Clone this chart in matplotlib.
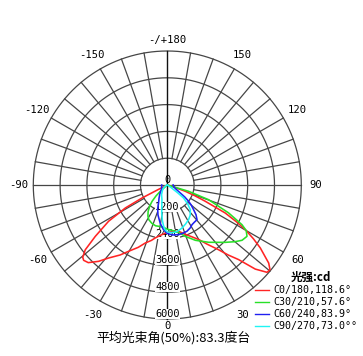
import numpy as np
import matplotlib
matplotlib.use("Agg")
import matplotlib.pyplot as plt
from matplotlib.lines import Line2D

# ---------------- data (gamma angle in degrees, intensity in cd) ----------------
c0_gamma = [-90, -65, -63.5, -62.8, -61.3, -58.3, -54.5, -51.7, -49.5, -48, -45.5, -42,
            -38.8, -34, -30.3, -25, -20.8, -16, -12.8, -8, -4, 0,
            5, 10, 14, 20, 25, 30, 34, 38.4, 41, 43.7, 46.3, 48.8, 50.5, 52.4, 55.9,
            58, 60.2, 62, 64.2, 66.8, 68.8, 70.7, 73, 75, 90]
c0_cd = [0, 0, 450, 1270, 2140, 3090, 3960, 4680, 4980, 5040, 4960, 4600,
         4195, 3780, 3440, 3080, 2780, 2580, 2430, 2280, 2190, 2120,
         2090, 2110, 2140, 2350, 2550, 2820, 3200, 3700, 4150, 4620, 5450, 5935, 5960, 5730, 5030,
         4550, 4030, 3500, 2880, 1850, 1300, 850, 300, 0, 0]

c30_gamma = [-90, -52, -49, -46, -43, -40, -36, -32, -28, -22, -16, -6, 0,
             5, 9, 13.4, 19.3, 26.9, 35.8, 45.3, 50, 53.5, 57.2, 60, 62, 65.5,
             70.4, 73.5, 77, 90]
c30_cd = [0, 0, 350, 700, 1000, 1220, 1460, 1640, 1760, 1850, 1900, 1890, 1980,
          2030, 2090, 2180, 2435, 2776, 3163, 3651, 3950, 4162, 4245, 4080, 3788, 3018,
          1963, 995, 0, 0]

c60_gamma = [-90, -65, -52, -40, -32, -25.8, -22, -17.4, -10.4, -5, 0,
             6, 12.8, 18, 23, 28, 31.9, 36, 40.6, 44, 46.8, 50, 52.6, 55.5, 58.4,
             65, 75, 90]
c60_cd = [250, 280, 340, 520, 700, 900, 1150, 1400, 1750, 2000, 2170,
          2250, 2280, 2270, 2250, 2180, 2093, 2060, 2045, 1850, 1616, 1400, 1200, 950, 684,
          420, 300, 260]

c90_gamma = [-90, -60, -45, -31, -20, -15, -11, -8, -5, -3, 0,
             5, 9.6, 14, 18.9, 25, 31.5, 37, 43, 47, 51.4, 53, 56, 60, 90]
c90_cd = [0, 150, 300, 500, 700, 950, 1300, 1600, 1860, 2000, 2100,
          2140, 2150, 2100, 2035, 1930, 1823, 1700, 1510, 1250, 934, 600, 200, 0, 0]

plane_labels = ["C0/180,118.6°", "C30/210,57.6°", "C60/240,83.9°", "C90/270,73.0°°"]
ring_values = [1200, 2400, 3600, 4800, 6000]
ring_labels = ["0", "1200", "2400", "3600", "4800", "6000"]
angle_ticks = [180, 150, -150, 120, -120, 90, -90, 60, -60, 30, -30, 0]
angle_tick_labels = ["-/+180", "150", "-150", "120", "-120", "90", "-90",
                     "60", "-60", "30", "-30", "0"]
legend_title = "光强:cd"
chart_title = "平均光束角(50%):83.3度台"

# ---------------- drawing ----------------
W, H, DPI = 363, 356, 100
fig = plt.figure(figsize=(W / DPI, H / DPI), dpi=DPI)
fig.patch.set_facecolor("white")

cx, cy, R = 167.3, 185.0, 134.0
ax = fig.add_axes([(cx - R) / W, (H - cy - R) / H, 2 * R / W, 2 * R / H],
                  projection="polar")
ax.set_theta_zero_location("S")
ax.set_theta_direction(1)
ax.set_ylim(0, 6000)
ax.grid(False)
ax.set_xticks([])
ax.set_yticks([])
ax.spines["polar"].set_visible(False)
ax.set_facecolor("white")

grid_col = "#464646"
glw = 0.9
th = np.linspace(0, 2 * np.pi, 1441)
for r in ring_values:
    ax.plot(th, np.full_like(th, r), color=grid_col, lw=glw, clip_on=False, zorder=1)
for a in range(0, 360, 10):
    if a % 90 == 0:
        continue
    ax.plot([np.radians(a)] * 2, [ring_values[0], ring_values[-1]],
            color=grid_col, lw=glw, clip_on=False, zorder=1)
# horizontal through centre
ax.plot([np.pi / 2] * 2, [0, 6000], color=grid_col, lw=glw, clip_on=False, zorder=1)
ax.plot([-np.pi / 2] * 2, [0, 6000], color=grid_col, lw=glw, clip_on=False, zorder=1)
# vertical through centre (darker)
ax.plot([0, 0], [0, 6000], color="#111111", lw=1.0, clip_on=False, zorder=1)
ax.plot([np.pi] * 2, [0, 6000], color="#111111", lw=1.0, clip_on=False, zorder=1)

mono = "DejaVu Sans Mono"
# radial labels
ax.text(0, 0, ring_labels[0], ha="center", va="bottom", fontsize=7.4, family=mono,
        zorder=2, clip_on=False)
for r, lab in zip(ring_values, ring_labels[1:]):
    ax.text(0, r, lab, ha="center", va="bottom", fontsize=7.4, family=mono, zorder=2,
            clip_on=False,
            bbox=dict(boxstyle="square,pad=0", facecolor="white", edgecolor="none"))

# angular labels
label_r = {180: 6500, 90: 6650, -90: 6650, 0: 6310}
for deg, lab in zip(angle_ticks, angle_tick_labels):
    rr = label_r.get(deg, 6720)
    ax.text(np.radians(deg), rr, lab, ha="center", va="center", fontsize=7.6,
            family=mono, clip_on=False)

# curves
colors = ["#ff2424", "#28e028", "#2020f0", "#20f4f4"]
series = [(c0_gamma, c0_cd), (c30_gamma, c30_cd), (c60_gamma, c60_cd), (c90_gamma, c90_cd)]
for (g, v), col in zip(series, colors):
    ax.plot(np.radians(g), v, color=col, lw=1.15, zorder=3, clip_on=False)

# legend
fig.text(311 / W, 1 - 277.5 / H, legend_title, ha="center", va="center", fontsize=8.3,
         family=["Noto Sans CJK SC", "DejaVu Sans"], weight="bold")
rows_y = [290, 302, 314, 326]
for y, col, lab in zip(rows_y, colors, plane_labels):
    fig.add_artist(Line2D([255 / W, 269 / W], [1 - y / H] * 2, color=col, lw=1.0))
    fig.text(273 / W, 1 - y / H, lab, ha="left", va="center", fontsize=7.2, family=mono)

# title
fig.text(173 / W, 1 - 338 / H, chart_title, ha="center", va="center", fontsize=9.3,
         family=["Noto Sans CJK SC", "DejaVu Sans"])

fig.savefig("out.png", dpi=DPI, facecolor="white")
